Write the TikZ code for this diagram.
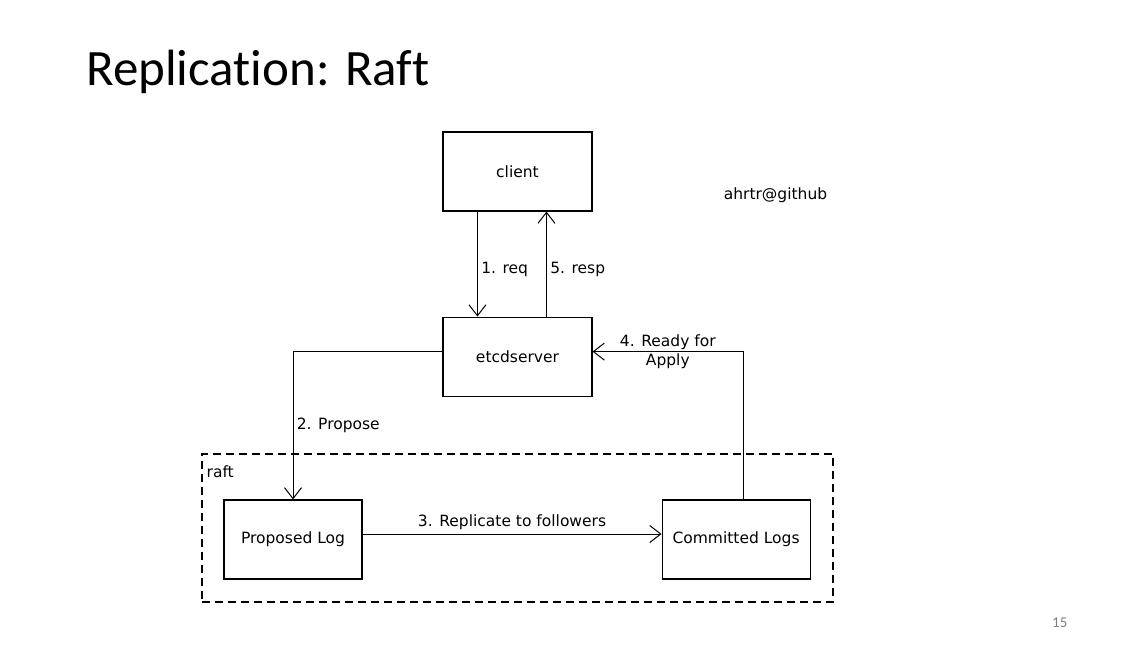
\documentclass[tikz,border=0pt]{standalone}
\usepackage{fontspec}
\setmainfont{DejaVu Sans}
\newfontfamily\slidefont[Ligatures=NoCommon]{Carlito}
\usetikzlibrary{arrows.meta,positioning}

\begin{document}
\begin{tikzpicture}[x=1pt,y=-1pt,
        font=\fontsize{15.5}{19}\selectfont,
        box/.style={draw,line width=1.1pt,minimum width=149pt,minimum height=79pt,inner sep=0pt},
        flow/.style={-{Straight Barb[length=11pt,width=17pt]},line width=1pt},
        raftbox/.style={draw,line width=1.1pt,dash pattern=on 8pt off 5pt}]
        \fill[white] (0,0) rectangle (1145,646);
        \useasboundingbox (0,0) rectangle (1145,646);
        \node[anchor=base west,inner sep=0pt,font=\slidefont\fontsize{51}{60}\selectfont] (title) at (86,85) {Replication: Raft};
        \node[anchor=base west,inner sep=0pt,text=black!50,font=\slidefont\fontsize{15}{18}\selectfont] (page) at (1052,627) {15};
        \node[raftbox,minimum width=631pt,minimum height=148pt] (raft) at (517.5,528) {};
        \node[anchor=base west,inner sep=0pt] (raftlbl) at ([xshift=5pt,yshift=-24pt]raft.north west) {raft};
        \node[box] (client) at (517.5,171.5) {client};
        \node[box,below=105pt of client] (etcd) {etcdserver};
        \node[box,minimum width=138pt] (plog) at (293,539.5) {Proposed Log};
        \node[box,minimum width=148pt,right=299pt of plog] (clog) {Committed Logs};
        \node (sign) at (775.5,195) {ahrtr@github};
        \draw[flow] ([xshift=35pt]client.south west) -- node[right,pos=0.55] {1. req} ([xshift=35pt]etcd.north west);
        \draw[flow] ([xshift=104pt]etcd.north west) -- node[right,pos=0.45] {5. resp} ([xshift=104pt]client.south west);
        \draw[flow] ([yshift=5pt]etcd.west) -| node[right,pos=0.75] {2. Propose} (plog.north);
        \draw[flow] ([yshift=5.5pt]plog.east) -- node[above,inner sep=4pt] {3. Replicate to followers} ([yshift=5.5pt]clog.west);
        \draw[flow] ([xshift=7pt]clog.north) |- node[pos=0.75,align=center,inner sep=0pt] {4. Ready for\\Apply} ([yshift=5pt]etcd.east);
      \end{tikzpicture}
\end{document}
